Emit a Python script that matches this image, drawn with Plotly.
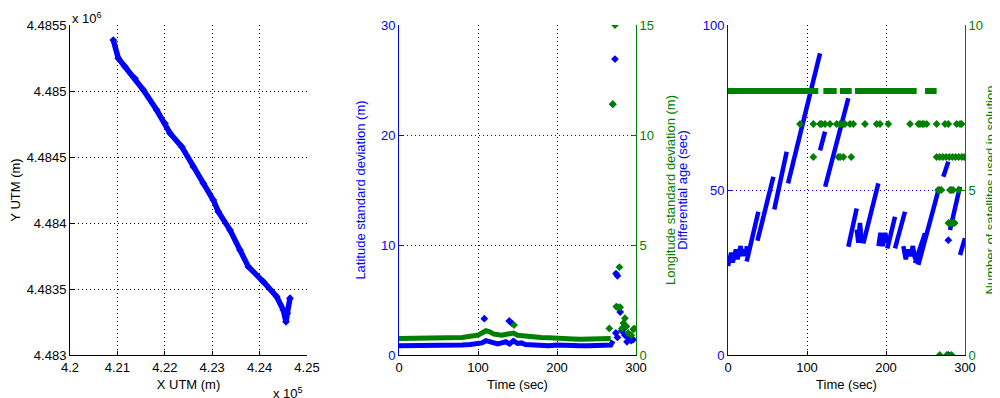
import plotly.graph_objects as go

BLUE = "#0000ff"
GREEN = "#008000"
FONT = "Liberation Sans"

# ---------- Panel 1: trajectory (UTM) ----------
x_utm = [420913, 421019, 421160, 421371, 421547, 421829, 422004, 422110, 422356, 422601,
         422812, 423023, 423129, 423376, 423586, 423762, 424079, 424360, 424500, 424557,
         424585, 424641]
y_utm = [4485386, 4485248, 4485184, 4485096, 4485008, 4484856, 4484755, 4484680, 4484578, 4484427,
         4484301, 4484174, 4484086, 4483947, 4483795, 4483669, 4483555, 4483442, 4483341, 4483252,
         4483316, 4483430]
x_tickvals = [420000, 421000, 422000, 423000, 424000, 425000]
x_ticktext = ["4.2", "4.21", "4.22", "4.23", "4.24", "4.25"]
y_tickvals = [4483000, 4483500, 4484000, 4484500, 4485000, 4485500]
y_ticktext = ["4.483", "4.4835", "4.484", "4.4845", "4.485", "4.4855"]

# ---------- Panel 2: standard deviations ----------
lat_band_t = [0, 10, 20, 30, 40, 50, 60, 70, 80, 90, 100, 105, 110, 115, 120, 125, 130, 135, 140,
              145, 150, 155, 160, 170, 180, 190, 200, 210, 220, 230, 240, 250, 260, 268, 271]
lat_band_v = [0.85, 0.85, 0.8, 0.85, 0.8, 0.85, 0.85, 0.9, 0.9, 0.95, 1.0, 1.1, 1.3, 1.2, 1.15,
              1.0, 1.1, 1.2, 1.0, 1.3, 1.05, 1.1, 0.95, 0.9, 0.9, 0.85, 0.9, 0.85, 0.9, 0.85,
              0.85, 0.9, 0.85, 0.9, 1.3]
lat_pts_t = [108, 139.5, 142.5, 270.6, 273.4, 274.7, 276.5, 274.5, 276.5, 280, 282, 284.4,
             286, 288.6, 291, 294, 296.6]
lat_pts_v = [3.3, 3.1, 2.9, 22.8, 26.9, 7.4, 7.2, 2.0, 1.6, 3.9, 2.2, 2.4, 1.8, 1.2, 1.5, 1.3, 1.4]

lon_band_t = [0, 10, 20, 30, 40, 50, 60, 70, 80, 90, 100, 105, 110, 115, 120, 130, 140, 145,
              150, 160, 170, 180, 190, 200, 210, 220, 230, 240, 250, 260, 268]
lon_band_v = [0.75, 0.75, 0.75, 0.75, 0.75, 0.75, 0.76, 0.78, 0.8, 0.85, 0.9, 1.0, 1.1, 1.05,
              0.95, 0.9, 0.95, 1.0, 0.9, 0.85, 0.85, 0.8, 0.78, 0.75, 0.75, 0.73, 0.72, 0.73,
              0.72, 0.74, 0.75]
lon_pts_t = [145.6, 266.2, 270.6, 273.4, 275, 277, 279, 280, 282, 284, 286, 288, 290, 294, 296.6, 298]
lon_pts_v = [1.36, 1.21, 11.4, 15.0, 2.2, 2.17, 3.99, 2.17, 1.2, 1.45, 1.67, 1.3, 1.0, 0.9, 1.17, 1.2]

# ---------- Panel 3: differential age and satellites ----------
age_t = [0, 2, 4, 6, 8, 10, 12, 14, 16, 18, 20, 22, 24, None,
         23.6, 38.4, None,
         37.3, 57.4, None,
         58.6, 74.3, None,
         76.0, 116.5, None,
         116.5, 122.8, None,
         123.0, 152.3, None,
         152.3, 162.9, None,
         163, 165, 167, 169, 171, None,
         171.3, 190.3, None,
         190.5, 193, 196, 199, 202, None,
         201.7, 211.4, None,
         211.4, 224.0, None,
         222, 225, 228, 231, 234, 237, None,
         236.7, 249.4, None,
         240.9, 267.0, None,
         272.5, 278.9, None,
         281.0, 293.6, None,
         293.7, 300.0]
age_v = [27, 29, 31, 28, 30, 32, 29, 31, 33, 30, 32, 30, 33, None,
         28.3, 43.4, None,
         34.6, 54.0, None,
         44.1, 61.6, None,
         52.0, 91.4, None,
         62.0, 67.7, None,
         51.0, 77.8, None,
         32.8, 44.4, None,
         38, 34, 40, 35, 34, None,
         33.8, 52.0, None,
         33, 37, 33, 37, 34, None,
         32.3, 41.9, None,
         32.3, 43.4, None,
         33, 29, 32, 30, 33, 29, None,
         27.8, 36.9, None,
         27.3, 50.5, None,
         54.0, 58.6, None,
         37.9, 51.0, None,
         30.3, 35.4]
age_pts_t = [278.9, 279.0]
age_pts_v = [34.8, 0.0]

sat8_t = [0, 114.3, None, 120.7, 137.6, None, 141.8, 156.6, None, 160.8, 238.8, None, 249.4, 264.1]
sat8_v = [8, 8, None, 8, 8, None, 8, 8, None, 8, 8, None, 8, 8]
sat_pts_t = [91.1, 108, 116.5, 118.6, 122.8, 129.1, 137.6, 141.8, 146, 148.1, 154.4, 158.6, 173.4,
             188.2, 192.4, 202.9, 230.4, 240.9, 243, 246, 248, 251.5, 264.1, 274.7, 278.9, 289.5,
             293.7, 295.8,
             108, 139.7, 142, 146, 156, 264.1, 268, 272, 276, 280, 284, 288, 292, 296, 299,
             266, 268, 270, 281, 283, 285, 292,
             279, 281, 283, 285, 287,
             268, 277, 283]
sat_pts_v = [7] * 28 + [6] * 15 + [5] * 7 + [4] * 5 + [0] * 3

fig = go.Figure()

fig.add_trace(go.Scatter(x=x_utm, y=y_utm, mode="lines+markers",
                         line=dict(color=BLUE, width=5.5), marker=dict(color=BLUE, size=6, symbol="diamond"),
                         xaxis="x", yaxis="y", showlegend=False))

fig.add_trace(go.Scatter(x=lat_band_t, y=lat_band_v, mode="lines", line=dict(color=BLUE, width=5),
                         xaxis="x2", yaxis="y2", showlegend=False))
fig.add_trace(go.Scatter(x=lat_pts_t, y=lat_pts_v, mode="markers",
                         marker=dict(color=BLUE, size=6, symbol="diamond"),
                         xaxis="x2", yaxis="y2", showlegend=False))
fig.add_trace(go.Scatter(x=lon_band_t, y=lon_band_v, mode="lines", line=dict(color=GREEN, width=5),
                         xaxis="x2", yaxis="y3", showlegend=False))
fig.add_trace(go.Scatter(x=lon_pts_t, y=lon_pts_v, mode="markers",
                         marker=dict(color=GREEN, size=6, symbol="diamond"),
                         xaxis="x2", yaxis="y3", showlegend=False))

fig.add_trace(go.Scatter(x=age_t, y=age_v, mode="lines", line=dict(color=BLUE, width=4.5),
                         connectgaps=False, xaxis="x3", yaxis="y4", showlegend=False))
fig.add_trace(go.Scatter(x=age_pts_t, y=age_pts_v, mode="markers",
                         marker=dict(color=BLUE, size=6, symbol="diamond"),
                         xaxis="x3", yaxis="y4", showlegend=False))
fig.add_trace(go.Scatter(x=sat8_t, y=sat8_v, mode="lines", line=dict(color=GREEN, width=6),
                         connectgaps=False, xaxis="x3", yaxis="y5", showlegend=False))
fig.add_trace(go.Scatter(x=sat_pts_t, y=sat_pts_v, mode="markers",
                         marker=dict(color=GREEN, size=6, symbol="diamond"),
                         xaxis="x3", yaxis="y5", showlegend=False))

# page body has an 8px margin: figure coordinates = screen - 8
W, H = 992, 390
def xd(a, b):
    return [(a - 8) / W, (b - 8) / W]
Y0 = 1 - (355 - 8) / H
Y1 = 1 - (25 - 8) / H
DOT = "1px,3px"
tf = dict(family=FONT, size=13, color="black")
bf = dict(family=FONT, size=13, color=BLUE)
gf = dict(family=FONT, size=13, color=GREEN)

common_x = dict(showline=True, linecolor="black", linewidth=1, ticks="inside", ticklen=4,
                tickcolor="black", showgrid=True, gridcolor="black", griddash=DOT, gridwidth=1,
                zeroline=False, tickfont=tf, mirror=False, automargin=False)
common_y = dict(showline=True, linewidth=1, ticks="inside", ticklen=4, zeroline=False,
                automargin=False, domain=[Y0, Y1])

fig.update_layout(
    width=W, height=H,
    margin=dict(l=0, r=0, t=0, b=0),
    paper_bgcolor="white", plot_bgcolor="white",
    font=dict(family=FONT, size=13, color="black"),
    xaxis=dict(domain=xd(70, 307), range=[420000, 425000], tickvals=x_tickvals, ticktext=x_ticktext,
               title=dict(text="X UTM (m)", font=tf, standoff=6), anchor="y", **common_x),
    yaxis=dict(range=[4483000, 4485500], tickvals=y_tickvals, ticktext=y_ticktext,
               title=dict(text="Y UTM (m)", font=tf, standoff=10), anchor="x",
               linecolor="black", tickcolor="black", tickfont=tf,
               showgrid=True, gridcolor="black", griddash=DOT, **common_y),
    xaxis2=dict(domain=xd(399, 636), range=[0, 300], tickvals=[0, 100, 200, 300],
                title=dict(text="Time (sec)", font=tf, standoff=6), anchor="y2", **common_x),
    yaxis2=dict(range=[0, 30], tickvals=[0, 10, 20, 30], anchor="x2",
                linecolor=BLUE, tickcolor=BLUE, tickfont=bf,
                showgrid=True, gridcolor=BLUE, griddash=DOT,
                title=dict(text="Latitude standard deviation (m)", font=bf, standoff=12), **common_y),
    yaxis3=dict(range=[0, 15], tickvals=[0, 5, 10, 15], anchor="x2", overlaying="y2", side="right",
                linecolor=GREEN, tickcolor=GREEN, tickfont=gf, showgrid=False,
                title=dict(text="Longitude standard deviation (m)", font=gf, standoff=12), **common_y),
    xaxis3=dict(domain=xd(728, 965), range=[0, 300], tickvals=[0, 100, 200, 300],
                title=dict(text="Time (sec)", font=tf, standoff=6), anchor="y4", **common_x),
    yaxis4=dict(range=[0, 100], tickvals=[0, 50, 100], anchor="x3",
                linecolor=BLUE, tickcolor=BLUE, tickfont=bf,
                showgrid=True, gridcolor=BLUE, griddash=DOT,
                title=dict(text="Differential age (sec)", font=bf, standoff=12), **common_y),
    yaxis5=dict(range=[0, 10], tickvals=[0, 5, 10], anchor="x3", overlaying="y4", side="right",
                linecolor=GREEN, tickcolor=GREEN, tickfont=gf, showgrid=False,
                title=dict(text="Number of satellites used in solution", font=gf, standoff=3), **common_y),
    annotations=[
        dict(text="x 10<sup>6</sup>", x=(70 - 8) / W, y=1 - (18 - 8) / H, xref="paper", yref="paper",
             xanchor="left", yanchor="middle", showarrow=False, font=tf),
        dict(text="x 10<sup>5</sup>", x=(305 - 8) / W, y=1 - (393 - 8) / H, xref="paper", yref="paper",
             xanchor="right", yanchor="middle", showarrow=False, font=tf),
    ],
)

fig.write_html("out.html")
